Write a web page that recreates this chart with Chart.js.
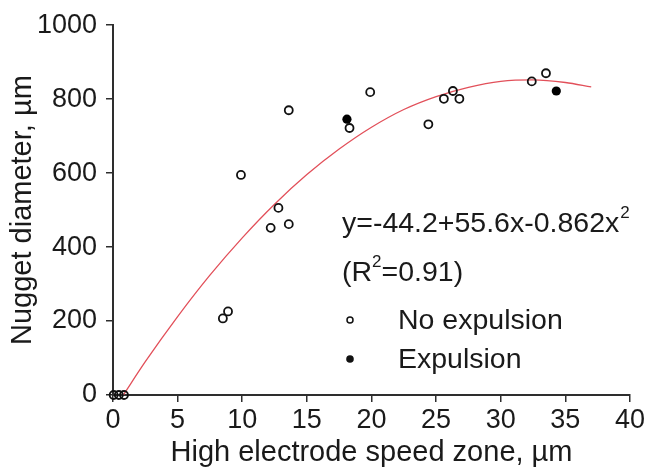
<!DOCTYPE html>
<html>
<head>
<meta charset="utf-8">
<script src="https://cdn.jsdelivr.net/npm/chart.js@4"></script>
<style>
  body { margin: 0; background: #fff; }
</style>
</head>
<body>
<canvas id="myChart" width="647" height="470"></canvas>
<script>
// values
const noExpX = [0.05, 0.45, 0.85, 8.5, 8.9, 9.9, 12.2, 12.8, 13.6, 13.6, 18.3, 19.9, 24.4, 25.6, 26.3, 26.8, 32.4, 33.5]
const noExpY = [0, 0, 0, 207, 226, 595, 452, 506, 462, 770, 722, 819, 732, 801, 822, 801, 848, 870]
const expX = [18.1, 34.3]
const expY = [746, 822]
// fitted curve as it is drawn
const fitX = [0.8, 2.5, 5, 7.5, 10, 12.5, 15, 17.5, 20, 22.5, 25, 27.5, 30, 32.5, 35, 37]
const fitY = [0, 90, 212, 324, 425, 516, 596, 665, 724, 772, 807, 832, 848, 852, 845, 833]
const xTicks = [0, 5, 10, 15, 20, 25, 30, 35, 40]
const yTicks = [0, 200, 400, 600, 800, 1000]

const FONT = '"Liberation Sans", Arial, Helvetica, sans-serif'
const TEXT = '#1a1a1a'
const AXIS = '#2e2e2e'

const toPoints = (xs, ys) => xs.map((x, i) => ({x, y: ys[i]}))

// equation, R^2 and the little legend inside the plot
const annotation = {
    id: 'annotation',
    afterDraw(chart){
        const ctx = chart.ctx
        ctx.save()
        ctx.fillStyle = TEXT
        ctx.textBaseline = 'alphabetic'
        ctx.textAlign = 'left'

        const big = `28.5px ${FONT}`
        const sup = `17px ${FONT}`

        // y=-44.2+55.6x-0.862x^2
        ctx.font = big
        const eq = 'y=-44.2+55.6x-0.862x'
        ctx.fillText(eq, 342, 232)
        let w = ctx.measureText(eq).width
        ctx.font = sup
        ctx.fillText('2', 342 + w + 1, 218)

        // (R^2=0.91)
        ctx.font = big
        ctx.fillText('(R', 342, 281)
        w = ctx.measureText('(R').width
        ctx.font = sup
        ctx.fillText('2', 342 + w, 267)
        const w2 = ctx.measureText('2').width
        ctx.font = big
        ctx.fillText('=0.91)', 342 + w + w2, 281)

        // legend
        ctx.fillText('No expulsion', 398, 329)
        ctx.fillText('Expulsion', 398, 368)
        ctx.lineWidth = 1.5
        ctx.strokeStyle = '#111'
        ctx.beginPath()
        ctx.arc(350, 320, 3, 0, Math.PI * 2)
        ctx.stroke()
        ctx.fillStyle = '#111'
        ctx.beginPath()
        ctx.arc(350, 359, 3.8, 0, Math.PI * 2)
        ctx.fill()
        ctx.restore()
    }
}

const ctx = document.getElementById('myChart')
new Chart(ctx, {
    type: 'scatter',
    data: {
        datasets: [
            {
                label: 'Fit',
                type: 'line',
                data: toPoints(fitX, fitY),
                borderColor: '#e2505a',
                borderWidth: 1.3,
                pointRadius: 0,
                fill: false,
                cubicInterpolationMode: 'monotone',
                order: 3
            },
            {
                label: 'No expulsion',
                data: toPoints(noExpX, noExpY),
                pointRadius: 4,
                pointBorderWidth: 1.8,
                borderColor: '#111',
                backgroundColor: 'rgba(255,255,255,0)',
                clip: false,
                order: 2
            },
            {
                label: 'Expulsion',
                data: toPoints(expX, expY),
                pointRadius: 4.6,
                pointBorderWidth: 0,
                borderColor: '#000',
                backgroundColor: '#000',
                clip: false,
                order: 1
            }
        ]
    },
    options: {
        responsive: false,
        devicePixelRatio: 1,
        animation: false,
        layout: { padding: { top: 24, right: 17, left: 0, bottom: 0 } },
        plugins: {
            legend: { display: false },
            tooltip: { enabled: false }
        },
        scales: {
            x: {
                type: 'linear',
                min: 0,
                max: 40,
                afterBuildTicks: s => { s.ticks = xTicks.map(v => ({value: v})) },
                afterFit: s => { s.height = 75 },
                grid: { drawOnChartArea: false, drawTicks: true, tickLength: 7, color: AXIS, lineWidth: 1.5 },
                border: { display: true, color: AXIS, width: 2 },
                ticks: {
                    color: TEXT,
                    font: { family: FONT, size: 27 },
                    padding: 2,
                    maxRotation: 0,
                    callback: v => String(v)
                },
                title: {
                    display: true,
                    text: 'High electrode speed zone, µm',
                    color: TEXT,
                    font: { family: FONT, size: 29 },
                    padding: { top: 0, bottom: 0 }
                }
            },
            y: {
                type: 'linear',
                min: 0,
                max: 1000,
                afterBuildTicks: s => { s.ticks = yTicks.map(v => ({value: v})) },
                afterFit: s => { s.width = 113 },
                grid: { drawOnChartArea: false, drawTicks: true, tickLength: 7, color: AXIS, lineWidth: 1.5 },
                border: { display: true, color: AXIS, width: 2 },
                ticks: {
                    color: TEXT,
                    font: { family: FONT, size: 27 },
                    padding: 9,
                    callback: v => String(v)
                },
                title: {
                    display: true,
                    text: 'Nugget diameter, µm',
                    color: TEXT,
                    font: { family: FONT, size: 29 },
                    padding: { top: 6, bottom: 0 }
                }
            }
        }
    },
    plugins: [annotation]
})
</script>
</body>
</html>
